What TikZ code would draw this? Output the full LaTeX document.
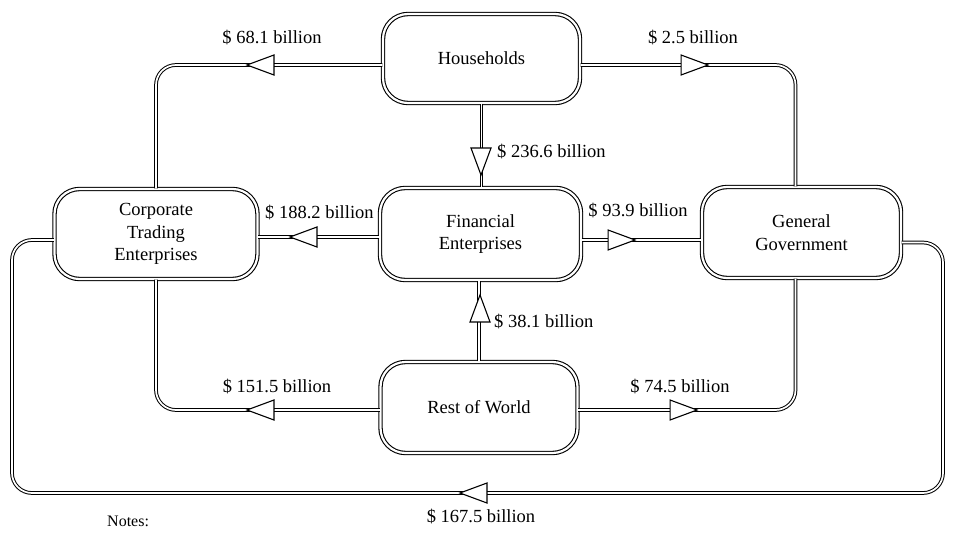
\documentclass[tikz,border=0pt]{standalone}
\usepackage{fontspec}
\setmainfont{Liberation Serif}
\usetikzlibrary{shapes.geometric,calc}
\tikzset{
  sector/.style={draw, double, line width=1.1pt, double distance=2.2pt,
    rounded corners=25pt, align=center, inner sep=0pt,
    font=\fontsize{18.5}{22.5}\selectfont},
  conn/.style={draw, double, line width=1pt, double distance=1.7pt,
    rounded corners=20pt},
  tri/.style={isosceles triangle, isosceles triangle stretches, draw,
    fill=white, line width=1.1pt, inner sep=0pt,
    minimum width=20pt, minimum height=27pt},
  triL/.style={tri, shape border rotate=180},
  triR/.style={tri, shape border rotate=0},
  triU/.style={tri, shape border rotate=90},
  triD/.style={tri, shape border rotate=270},
  amount/.style={font=\fontsize{18.5}{22}\selectfont, inner sep=0pt}
}
\begin{document}
\begin{tikzpicture}[x=1pt,y=-1pt]
\useasboundingbox (0,0) rectangle (957,532);
\fill[white] (0,0) rectangle (957,532);

% sectors
\node[sector, minimum width=197pt, minimum height=89pt] (H) at (481.5,58.5) {Households};
\node[sector, minimum width=203pt, minimum height=90pt] (C) at (156,234) {Corporate\\Trading\\Enterprises};
\node[sector, minimum width=201pt, minimum height=92pt] (F) at (480.5,234) {Financial\\Enterprises};
\node[sector, minimum width=199pt, minimum height=91pt] (G) at (801.5,232.5) {General\\Government};
\node[sector, minimum width=197pt, minimum height=91pt] (R) at (479,407.5) {Rest of World};

\coordinate (loopR) at (943,493);
\coordinate (loopL) at (12,493);

% connectors
\draw[conn] ([yshift=-6.5pt]H.west) -| (C.north);
\draw[conn] ([yshift=-6.5pt]H.east) -| ([xshift=-6pt]G.north);
\draw[conn] (H.south) -- (H.south |- F.north);
\draw[conn] ([yshift=-3pt]F.west) -- ([yshift=-3pt]F.west -| C.east);
\draw[conn] ([yshift=-6pt]F.east) -- ([yshift=-6pt]F.east -| G.west);
\draw[conn] (R.north) -- (R.north |- F.south);
\draw[conn] ([yshift=-2.5pt]R.west) -| (C.south);
\draw[conn] ([yshift=-2.5pt]R.east) -| ([xshift=-6pt]G.south);
\draw[conn] ([yshift=-10pt]G.east) -| (loopR) -- (loopL) |- ([yshift=-6pt]C.west);

% arrowheads
\node[triL] (a1) at (267,65) {};
\node[triR] (a2) at (688,65) {};
\node[triD] (a3) at (481,155) {};
\node[triL] (a4) at (310,237) {};
\node[triR] (a5) at (615,240) {};
\node[triU] (a6) at (480,315) {};
\node[triL] (a7) at (267,410) {};
\node[triR] (a8) at (677,410) {};
\node[triL] (a9) at (480,493) {};

% amounts
\node[amount] (l1) at (272,38) {\$ 68.1 billion};
\node[amount] (l2) at (693,38) {\$ 2.5 billion};
\node[amount, anchor=west] (l3) at (497,152) {\$ 236.6 billion};
\node[amount, anchor=west] (l4) at (265,213) {\$ 188.2 billion};
\node[amount] (l5) at (638,211) {\$ 93.9 billion};
\node[amount, anchor=west] (l6) at (494,322) {\$ 38.1 billion};
\node[amount] (l7) at (277,387) {\$ 151.5 billion};
\node[amount] (l8) at (680,387) {\$ 74.5 billion};
\node[amount] (l9) at (481,516) {\$ 167.5 billion};
\node[amount, anchor=base west, font=\fontsize{16}{19}\selectfont] (notes) at (107,526) {Notes:};
\end{tikzpicture}
\end{document}
